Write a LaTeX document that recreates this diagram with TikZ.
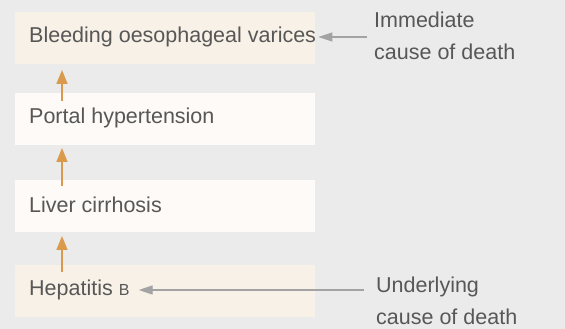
\documentclass[tikz,border=0pt]{standalone}
\usepackage{fontspec}
\setmainfont{Liberation Sans}
\usetikzlibrary{arrows.meta}
\definecolor{bg}{HTML}{EBEBEB}
\definecolor{boxA}{HTML}{F8F1E7}
\definecolor{boxB}{HTML}{FDFAF7}
\definecolor{txt}{HTML}{575757}
\definecolor{org}{HTML}{D99A4E}
\definecolor{gry}{HTML}{A3A3A3}
\begin{document}
\begin{tikzpicture}[x=1pt,y=1pt,
  font=\fontsize{21.5}{32}\selectfont, text=txt,
  stepbox/.style={anchor=south west, minimum width=300pt, minimum height=52pt, inner sep=0pt, draw=none},
  lbl/.style={anchor=west, inner sep=0pt},
  oarrow/.style={draw=org, line width=1.6pt, -{Triangle[length=14pt,width=11pt]}},
  garrow/.style={draw=gry, line width=1.2pt, -{Triangle[length=14pt,width=9pt]}},
  side/.style={anchor=north west, inner sep=0pt, align=left}
]
\fill[bg] (0,0) rectangle (565,329);
\useasboundingbox (0,0) rectangle (565,329);
% boxes
\node[stepbox, fill=boxA] (b1) at (15,265) {};
\node[stepbox, fill=boxB] (b2) at (15,184) {};
\node[stepbox, fill=boxB] (b3) at (15,97) {};
\node[stepbox, fill=boxA] (b4) at (15,12) {};
% texts
\node[lbl] (t1) at ([xshift=14pt,yshift=1pt]b1.west) {Bleeding oesophageal varices};
\node[lbl] (t2) at ([xshift=14pt,yshift=1pt]b2.west) {Portal hypertension};
\node[lbl] (t3) at ([xshift=14pt,yshift=1pt]b3.west) {Liver cirrhosis};
\node[lbl] (t4) at ([xshift=14pt,yshift=1pt]b4.west) {Hepatitis {\fontsize{16}{20}\selectfont B}};
% orange arrows
\draw[oarrow] ([xshift=47pt,yshift=-8pt]b2.north west) -- ([xshift=47pt,yshift=-6pt]b1.south west);
\draw[oarrow] ([xshift=47pt,yshift=-6pt]b3.north west) -- ([xshift=47pt,yshift=-3pt]b2.south west);
\draw[oarrow] ([xshift=47pt,yshift=-7pt]b4.north west) -- ([xshift=47pt,yshift=-4pt]b3.south west);
% side labels
\node[side] (s1) at (374,317) {Immediate\\cause of death};
\node[side] (s2) at (376,52) {Underlying\\cause of death};
\coordinate (c1) at (367,292);
\coordinate (c2) at (364,39);
\draw[garrow] (c1) -- ([xshift=3pt]b1.east |- c1);
\draw[garrow] (c2) -- ([xshift=9pt]t4.east |- c2);
\end{tikzpicture}
\end{document}
